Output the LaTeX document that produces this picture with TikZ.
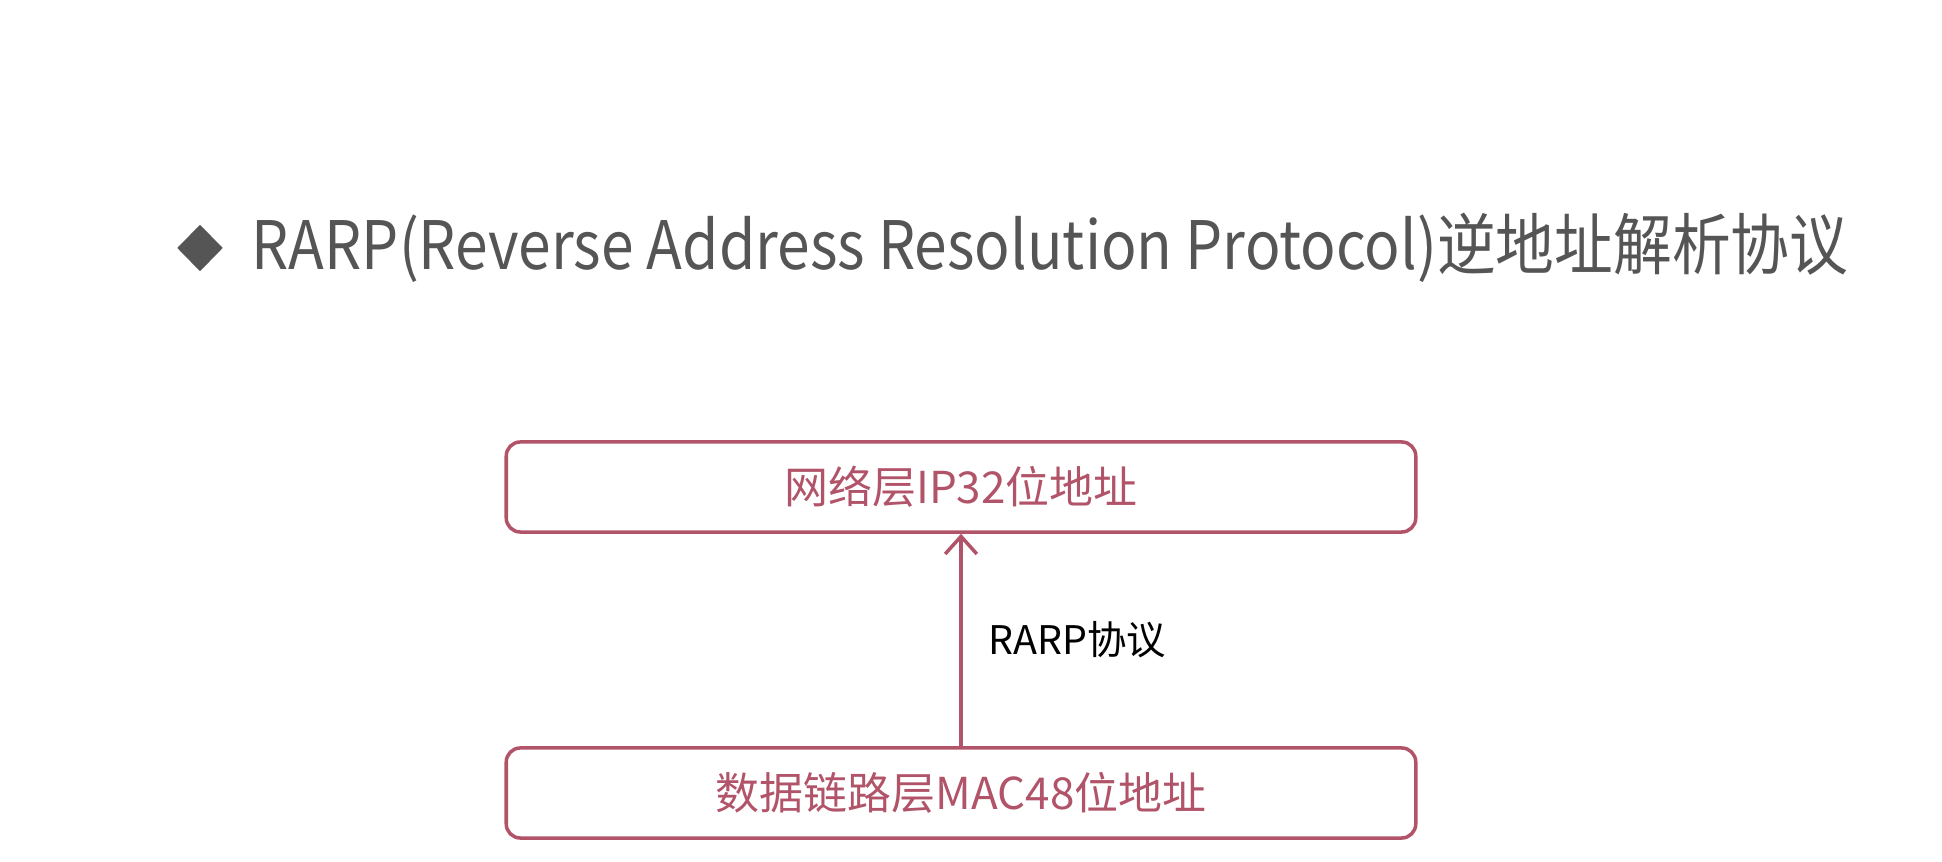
\documentclass[tikz,border=0pt]{standalone}
\usepackage{fontspec}
\setmainfont{Noto Sans CJK SC}
\usetikzlibrary{arrows.meta,shapes.geometric}

\definecolor{titlegray}{HTML}{555555}
\definecolor{layerred}{HTML}{B25469}

\begin{document}
\begin{tikzpicture}[
  x=0.01cm,y=-0.01cm,
  layer/.style={draw=layerred,line width=1pt,rounded corners=4pt,minimum width=9.09cm,minimum height=0.9cm,inner sep=0pt,text=layerred,font=\fontsize{12.5}{15}\selectfont},
  bullet/.style={diamond,fill=titlegray,inner sep=0pt,minimum width=0.46cm,minimum height=0.47cm},
  proto/.style={draw=layerred,line width=1pt,-{Straight Barb[length=5pt,width=9pt]}},
  protolabel/.style={inner sep=0pt,font=\fontsize{11.2}{14}\selectfont}
]
\useasboundingbox (0,0) rectangle (1942,862);

\node[bullet] (mark) at (200,248) {};
\node[anchor=west,inner sep=0pt,text=titlegray,font=\fontsize{19}{23}\selectfont] (title) at (251,248)
  {\scalebox{0.879}[1]{RARP(Reverse Address Resolution Protocol)逆地址解析协议}};

\node[layer] (ip) at (961,487) {网络层IP32位地址};
\node[layer] (mac) at (961,793) {数据链路层MAC48位地址};

\draw[proto] (mac) -- (ip) node[protolabel,midway,anchor=west,xshift=0.26cm] (rarp) {RARP协议};
\end{tikzpicture}
\end{document}
